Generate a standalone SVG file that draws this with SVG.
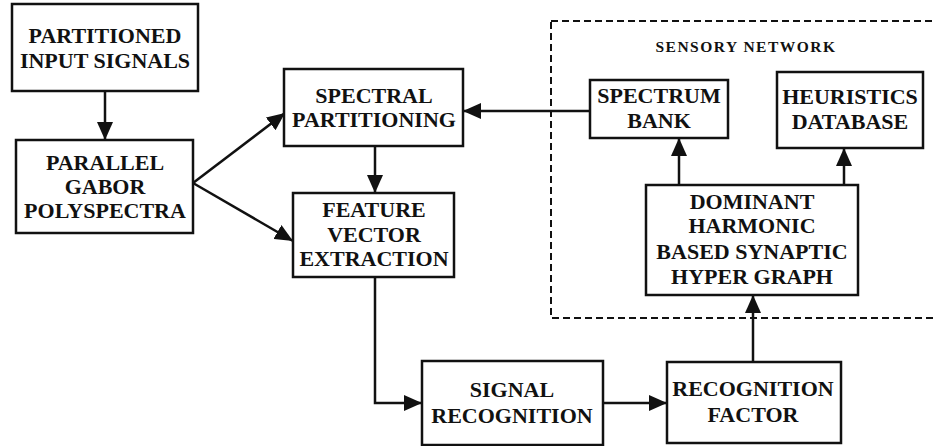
<svg xmlns="http://www.w3.org/2000/svg" width="935" height="446" viewBox="0 0 935 446">
  <style>
    .box { fill: #fff; stroke: #111; stroke-width: 2.5; }
    .lbl { font-weight: bold; font-size: 22px; fill: #111; text-anchor: middle; }
    .small { font-size: 15.5px; letter-spacing: 1.5px; }
    .wire { fill: none; stroke: #111; stroke-width: 2.5; }
    .dash { fill: none; stroke: #111; stroke-width: 2; stroke-dasharray: 7 4; }
  </style>
  <defs>
    <marker id="arr" viewBox="0 0 18 16" refX="18" refY="8" markerWidth="18" markerHeight="16" markerUnits="userSpaceOnUse" orient="auto">
      <path d="M0,0 L18,8 L0,16 Z" fill="#111"/>
    </marker>
  </defs>
  <rect width="935" height="446" fill="#fff"/>

  <g font-family="'Liberation Serif', 'Times New Roman', 'DejaVu Serif', serif">
  <!-- sensory network boundary -->
  <g id="sensory-network">
    <rect class="dash" x="551" y="21" width="400" height="297"/>
    <text class="lbl small" x="746" y="52">SENSORY NETWORK</text>
  </g>

  <g id="connectors">
    <path class="wire" d="M105,91 L105,140" marker-end="url(#arr)"/>
    <path class="wire" d="M193,183 L285,113" marker-end="url(#arr)"/>
    <path class="wire" d="M193,183 L293,241" marker-end="url(#arr)"/>
    <path class="wire" d="M375,146 L375,193" marker-end="url(#arr)"/>
    <path class="wire" d="M590,111 L463,111" marker-end="url(#arr)"/>
    <path class="wire" d="M679,185 L679,138" marker-end="url(#arr)"/>
    <path class="wire" d="M844,185 L844,148" marker-end="url(#arr)"/>
    <path class="wire" d="M375,277 L375,403 L422,403" marker-end="url(#arr)"/>
    <path class="wire" d="M603,403 L667,403" marker-end="url(#arr)"/>
    <path class="wire" d="M753,362 L753,295" marker-end="url(#arr)"/>
  </g>

  <g id="partitioned-input">
    <rect class="box" x="12" y="4" width="186" height="87"/>
    <text class="lbl" x="105" y="43">PARTITIONED</text>
    <text class="lbl" x="105" y="68">INPUT SIGNALS</text>
  </g>

  <g id="gabor-polyspectra">
    <rect class="box" x="16" y="140" width="177" height="93"/>
    <text class="lbl" x="105" y="170">PARALLEL</text>
    <text class="lbl" x="105" y="194">GABOR</text>
    <text class="lbl" x="105" y="218">POLYSPECTRA</text>
  </g>

  <g id="spectral-partitioning">
    <rect class="box" x="284" y="69" width="179" height="77"/>
    <text class="lbl" x="374" y="103">SPECTRAL</text>
    <text class="lbl" x="374" y="127">PARTITIONING</text>
  </g>

  <g id="feature-extraction">
    <rect class="box" x="293" y="193" width="161" height="84"/>
    <text class="lbl" x="374" y="217">FEATURE</text>
    <text class="lbl" x="374" y="242">VECTOR</text>
    <text class="lbl" x="374" y="266">EXTRACTION</text>
  </g>

  <g id="spectrum-bank">
    <rect class="box" x="590" y="80" width="138" height="58"/>
    <text class="lbl" x="659" y="103">SPECTRUM</text>
    <text class="lbl" x="659" y="128">BANK</text>
  </g>

  <g id="heuristics-database">
    <rect class="box" x="777" y="72" width="146" height="76"/>
    <text class="lbl" x="850" y="104">HEURISTICS</text>
    <text class="lbl" x="850" y="129">DATABASE</text>
  </g>

  <g id="hyper-graph">
    <rect class="box" x="646" y="185" width="212" height="110"/>
    <text class="lbl" x="752" y="209">DOMINANT</text>
    <text class="lbl" x="752" y="233">HARMONIC</text>
    <text class="lbl" x="752" y="259">BASED SYNAPTIC</text>
    <text class="lbl" x="752" y="284">HYPER GRAPH</text>
  </g>

  <g id="signal-recognition">
    <rect class="box" x="422" y="361" width="181" height="84"/>
    <text class="lbl" x="512" y="397">SIGNAL</text>
    <text class="lbl" x="512" y="423">RECOGNITION</text>
  </g>

  <g id="recognition-factor">
    <rect class="box" x="667" y="362" width="174" height="81"/>
    <text class="lbl" x="753" y="396">RECOGNITION</text>
    <text class="lbl" x="753" y="422">FACTOR</text>
  </g>
  </g>
</svg>
